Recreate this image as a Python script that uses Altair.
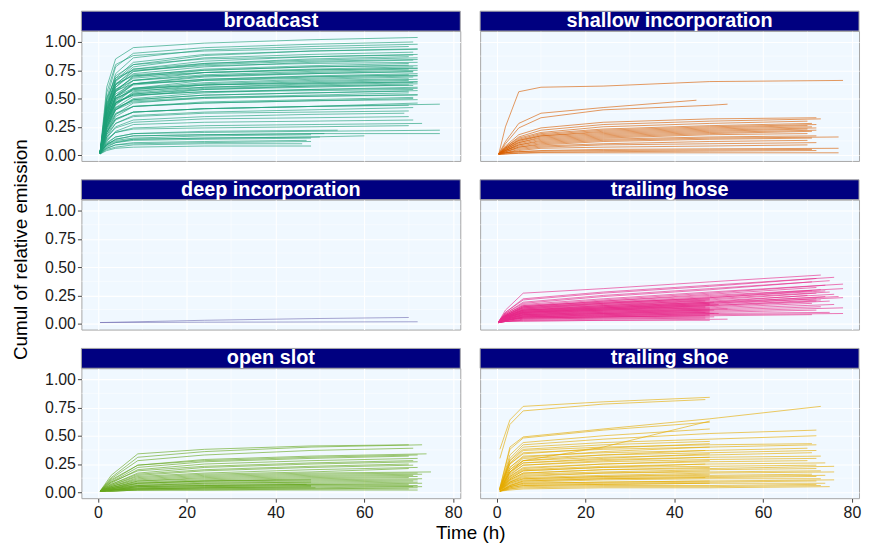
import altair as alt
import pandas as pd

PANELS = ["broadcast", "shallow incorporation", "deep incorporation",
          "trailing hose", "open slot", "trailing shoe"]
COLORS = ["#1B9E77", "#D95F02", "#7570B3", "#E7298A", "#66A61E", "#E6AB02"]

X_TICKS = [0, 20, 40, 60, 80]
X_MINOR = [10, 30, 50, 70]
Y_TICKS = [0, 0.25, 0.5, 0.75, 1.0]
Y_MINOR = [0.125, 0.375, 0.625, 0.875]

# sampling times per panel; each curve = (end time, values at the grid times, last one at end time)
broadcast_t = [0.5, 2, 4, 8, 24, 48, 72]
broadcast = [
    (72, [0.02, 0.60, 0.85, 0.95, 0.99, 1.02, 1.04]),
    (71, [0.02, 0.50, 0.78, 0.90, 0.95, 0.98, 1.00]),
    (72, [0.02, 0.45, 0.72, 0.86, 0.93, 0.96, 0.98]),
    (70, [0.02, 0.55, 0.80, 0.88, 0.92, 0.94, 0.96]),
    (72, [0.01, 0.40, 0.66, 0.80, 0.88, 0.92, 0.94]),
    (72, [0.02, 0.42, 0.68, 0.82, 0.89, 0.92, 0.935]),
    (71, [0.02, 0.42, 0.65, 0.78, 0.86, 0.89, 0.91]),
    (72, [0.02, 0.48, 0.70, 0.80, 0.85, 0.87, 0.89]),
    (71, [0.02, 0.36, 0.62, 0.76, 0.83, 0.87, 0.885]),
    (70, [0.01, 0.35, 0.60, 0.74, 0.81, 0.85, 0.87]),
    (72, [0.02, 0.45, 0.66, 0.76, 0.81, 0.84, 0.86]),
    (72, [0.02, 0.40, 0.63, 0.74, 0.80, 0.83, 0.845]),
    (71, [0.02, 0.38, 0.60, 0.72, 0.78, 0.82, 0.84]),
    (72, [0.02, 0.50, 0.68, 0.75, 0.79, 0.81, 0.82]),
    (70, [0.01, 0.33, 0.56, 0.70, 0.76, 0.79, 0.81]),
    (70, [0.02, 0.34, 0.57, 0.69, 0.75, 0.78, 0.795]),
    (72, [0.02, 0.40, 0.62, 0.71, 0.75, 0.78, 0.79]),
    (71, [0.02, 0.30, 0.52, 0.66, 0.73, 0.76, 0.78]),
    (72, [0.02, 0.44, 0.63, 0.70, 0.73, 0.75, 0.77]),
    (72, [0.02, 0.38, 0.58, 0.68, 0.73, 0.755, 0.765]),
    (70, [0.01, 0.35, 0.56, 0.66, 0.71, 0.74, 0.76]),
    (72, [0.02, 0.28, 0.50, 0.63, 0.70, 0.73, 0.75]),
    (71, [0.02, 0.38, 0.58, 0.66, 0.70, 0.72, 0.74]),
    (71, [0.02, 0.31, 0.52, 0.63, 0.69, 0.72, 0.735]),
    (72, [0.02, 0.32, 0.52, 0.62, 0.67, 0.70, 0.72]),
    (70, [0.01, 0.26, 0.46, 0.59, 0.66, 0.69, 0.71]),
    (72, [0.02, 0.36, 0.54, 0.63, 0.67, 0.695, 0.705]),
    (72, [0.02, 0.40, 0.57, 0.63, 0.66, 0.68, 0.70]),
    (71, [0.02, 0.30, 0.49, 0.59, 0.64, 0.67, 0.69]),
    (70, [0.02, 0.29, 0.48, 0.58, 0.63, 0.66, 0.675]),
    (72, [0.02, 0.25, 0.44, 0.56, 0.62, 0.65, 0.67]),
    (70, [0.02, 0.35, 0.52, 0.59, 0.62, 0.64, 0.66]),
    (72, [0.01, 0.28, 0.46, 0.55, 0.60, 0.63, 0.65]),
    (72, [0.02, 0.33, 0.50, 0.58, 0.62, 0.635, 0.645]),
    (71, [0.02, 0.33, 0.50, 0.57, 0.60, 0.62, 0.64]),
    (72, [0.02, 0.24, 0.42, 0.52, 0.58, 0.61, 0.63]),
    (70, [0.02, 0.30, 0.46, 0.54, 0.58, 0.60, 0.62]),
    (71, [0.02, 0.27, 0.45, 0.54, 0.59, 0.61, 0.615]),
    (72, [0.01, 0.22, 0.40, 0.50, 0.55, 0.58, 0.60]),
    (72, [0.02, 0.30, 0.46, 0.53, 0.56, 0.58, 0.59]),
    (71, [0.02, 0.32, 0.47, 0.53, 0.56, 0.57, 0.58]),
    (72, [0.02, 0.25, 0.41, 0.49, 0.53, 0.55, 0.57]),
    (70, [0.02, 0.24, 0.40, 0.49, 0.53, 0.55, 0.565]),
    (70, [0.02, 0.20, 0.36, 0.46, 0.51, 0.53, 0.55]),
    (72, [0.02, 0.26, 0.40, 0.47, 0.50, 0.52, 0.535]),
    (72, [0.02, 0.28, 0.42, 0.48, 0.51, 0.52, 0.53]),
    (71, [0.01, 0.20, 0.34, 0.43, 0.47, 0.49, 0.51]),
    (71, [0.02, 0.22, 0.36, 0.43, 0.46, 0.48, 0.50]),
    (72, [0.02, 0.24, 0.37, 0.43, 0.46, 0.48, 0.49]),
    (72, [0.02, 0.20, 0.32, 0.38, 0.41, 0.43, 0.46]),
    (77, [0.02, 0.18, 0.31, 0.38, 0.41, 0.43, 0.45]),
    (70, [0.02, 0.20, 0.32, 0.38, 0.41, 0.43, 0.44]),
    (71, [0.01, 0.16, 0.28, 0.35, 0.38, 0.40, 0.42]),
    (70, [0.02, 0.18, 0.28, 0.34, 0.37, 0.38, 0.39]),
    (69, [0.02, 0.15, 0.25, 0.31, 0.34, 0.36, 0.37]),
    (70, [0.02, 0.16, 0.24, 0.29, 0.32, 0.33, 0.34]),
    (71, [0.01, 0.12, 0.21, 0.27, 0.29, 0.30, 0.31]),
    (73, [0.02, 0.13, 0.20, 0.24, 0.26, 0.27, 0.28]),
    (70, [0.02, 0.14, 0.20, 0.23, 0.24, 0.25, 0.26]),
    (77, [0.02, 0.10, 0.16, 0.19, 0.20, 0.21, 0.22]),
    (77, [0.01, 0.09, 0.14, 0.17, 0.18, 0.19, 0.19]),
    (60, [0.02, 0.09, 0.12, 0.14, 0.15, 0.16, 0.17]),
    (54, [0.02, 0.11, 0.16, 0.19, 0.21, 0.22]),
    (51, [0.02, 0.09, 0.14, 0.17, 0.18, 0.19]),
    (48, [0.02, 0.10, 0.13, 0.15, 0.17, 0.18]),
    (50, [0.01, 0.07, 0.11, 0.14, 0.15, 0.16]),
    (48, [0.02, 0.08, 0.11, 0.13, 0.14, 0.15]),
    (47, [0.01, 0.06, 0.09, 0.11, 0.12, 0.13]),
    (48, [0.02, 0.06, 0.09, 0.10, 0.11, 0.12]),
    (46, [0.01, 0.05, 0.07, 0.09, 0.10, 0.10]),
    (48, [0.01, 0.04, 0.06, 0.07, 0.08, 0.08]),
]

shallow_t = [0.5, 2, 5, 10, 24, 48, 72]
shallow = [
    (78, [0.01, 0.25, 0.56, 0.60, 0.61, 0.65, 0.66]),
    (45, [0.01, 0.12, 0.28, 0.37, 0.42, 0.485]),
    (52, [0.01, 0.10, 0.24, 0.33, 0.40, 0.44, 0.45]),
    (72, [0.01, 0.08, 0.18, 0.24, 0.29, 0.32, 0.33]),
    (73, [0.01, 0.07, 0.16, 0.22, 0.27, 0.30, 0.32]),
    (70, [0.01, 0.07, 0.15, 0.20, 0.25, 0.28, 0.30]),
    (71, [0.01, 0.06, 0.14, 0.19, 0.23, 0.26, 0.28]),
    (72, [0.01, 0.06, 0.13, 0.18, 0.22, 0.25, 0.27]),
    (70, [0.01, 0.05, 0.12, 0.17, 0.21, 0.24, 0.26]),
    (71, [0.01, 0.06, 0.13, 0.17, 0.20, 0.23, 0.25]),
    (72, [0.01, 0.05, 0.11, 0.16, 0.19, 0.22, 0.24]),
    (70, [0.01, 0.05, 0.11, 0.15, 0.18, 0.21, 0.23]),
    (72, [0.01, 0.04, 0.10, 0.14, 0.17, 0.20, 0.22]),
    (71, [0.01, 0.04, 0.09, 0.13, 0.16, 0.19, 0.21]),
    (70, [0.01, 0.04, 0.09, 0.12, 0.15, 0.18, 0.19]),
    (77, [0.01, 0.03, 0.07, 0.10, 0.13, 0.15, 0.16]),
    (72, [0.01, 0.04, 0.08, 0.11, 0.14, 0.16, 0.17]),
    (71, [0.01, 0.03, 0.07, 0.09, 0.12, 0.14, 0.15]),
    (70, [0.01, 0.03, 0.06, 0.08, 0.10, 0.12, 0.13]),
    (72, [0.01, 0.02, 0.05, 0.07, 0.09, 0.10, 0.11]),
    (70, [0.01, 0.02, 0.04, 0.06, 0.07, 0.08, 0.09]),
    (77, [0.01, 0.02, 0.03, 0.04, 0.05, 0.055, 0.06]),
    (71, [0.01, 0.02, 0.03, 0.035, 0.04, 0.045, 0.05]),
    (77, [0.005, 0.01, 0.015, 0.02, 0.02, 0.02, 0.02]),
    (72, [0.005, 0.01, 0.02, 0.025, 0.03, 0.035, 0.04]),
]

deep_t = [0.5, 24, 48, 72]
deep = [
    (70, [0.01, 0.03, 0.045, 0.055]),
    (72, [0.01, 0.013, 0.015, 0.017]),
]

hose_t = [0.5, 2, 6, 24, 48, 72]
hose = [
    (73, [0.02, 0.12, 0.27, 0.31, 0.37, 0.43]),
    (76, [0.02, 0.10, 0.22, 0.28, 0.34, 0.41]),
    (72, [0.02, 0.10, 0.21, 0.27, 0.33, 0.40]),
    (75, [0.02, 0.09, 0.19, 0.25, 0.31, 0.38]),
    (71, [0.02, 0.09, 0.18, 0.24, 0.30, 0.37]),
    (78, [0.02, 0.08, 0.17, 0.22, 0.28, 0.35]),
    (74, [0.02, 0.08, 0.16, 0.21, 0.27, 0.34]),
    (72, [0.02, 0.07, 0.15, 0.20, 0.26, 0.32]),
    (78, [0.02, 0.07, 0.15, 0.20, 0.25, 0.31]),
    (73, [0.02, 0.07, 0.14, 0.19, 0.24, 0.30]),
    (71, [0.02, 0.06, 0.13, 0.18, 0.23, 0.29]),
    (74, [0.02, 0.07, 0.14, 0.18, 0.23, 0.29]),
    (75, [0.02, 0.06, 0.13, 0.17, 0.22, 0.28]),
    (72, [0.02, 0.06, 0.12, 0.16, 0.21, 0.27]),
    (76, [0.02, 0.06, 0.12, 0.16, 0.20, 0.26]),
    (70, [0.02, 0.05, 0.11, 0.15, 0.19, 0.25]),
    (74, [0.02, 0.05, 0.11, 0.14, 0.18, 0.24]),
    (77, [0.02, 0.06, 0.12, 0.15, 0.19, 0.24]),
    (78, [0.02, 0.05, 0.10, 0.14, 0.18, 0.23]),
    (72, [0.02, 0.05, 0.10, 0.13, 0.17, 0.22]),
    (73, [0.02, 0.05, 0.09, 0.12, 0.16, 0.21]),
    (75, [0.02, 0.04, 0.09, 0.12, 0.15, 0.20]),
    (72, [0.02, 0.05, 0.10, 0.13, 0.16, 0.20]),
    (71, [0.02, 0.04, 0.08, 0.11, 0.14, 0.18]),
    (76, [0.02, 0.04, 0.08, 0.10, 0.13, 0.17]),
    (73, [0.01, 0.04, 0.07, 0.09, 0.12, 0.15]),
    (78, [0.01, 0.04, 0.07, 0.09, 0.11, 0.14]),
    (72, [0.01, 0.03, 0.06, 0.08, 0.10, 0.12]),
    (75, [0.01, 0.03, 0.06, 0.07, 0.09, 0.10]),
    (78, [0.01, 0.03, 0.05, 0.06, 0.08, 0.09]),
    (71, [0.01, 0.03, 0.05, 0.06, 0.07, 0.08]),
    (48, [0.02, 0.08, 0.16, 0.19, 0.22]),
    (48, [0.02, 0.07, 0.15, 0.18, 0.21]),
    (47, [0.02, 0.07, 0.14, 0.17, 0.20]),
    (49, [0.02, 0.07, 0.13, 0.16, 0.19]),
    (48, [0.02, 0.06, 0.12, 0.15, 0.18]),
    (50, [0.02, 0.06, 0.11, 0.14, 0.17]),
    (48, [0.02, 0.06, 0.12, 0.14, 0.17]),
    (48, [0.02, 0.06, 0.11, 0.13, 0.16]),
    (47, [0.02, 0.05, 0.10, 0.13, 0.15]),
    (48, [0.02, 0.05, 0.10, 0.12, 0.14]),
    (47, [0.02, 0.05, 0.10, 0.12, 0.14]),
    (52, [0.02, 0.05, 0.09, 0.11, 0.13]),
    (48, [0.01, 0.05, 0.09, 0.11, 0.13]),
    (49, [0.01, 0.04, 0.08, 0.10, 0.12]),
    (48, [0.01, 0.04, 0.08, 0.10, 0.12]),
    (48, [0.01, 0.04, 0.08, 0.09, 0.11]),
    (47, [0.01, 0.04, 0.07, 0.09, 0.10]),
    (48, [0.01, 0.04, 0.07, 0.08, 0.10]),
    (50, [0.01, 0.03, 0.06, 0.08, 0.09]),
    (49, [0.01, 0.03, 0.06, 0.07, 0.09]),
    (48, [0.01, 0.03, 0.06, 0.07, 0.08]),
    (47, [0.01, 0.03, 0.05, 0.06, 0.07]),
    (48, [0.01, 0.03, 0.05, 0.06, 0.07]),
    (49, [0.01, 0.02, 0.04, 0.05, 0.06]),
    (48, [0.01, 0.02, 0.04, 0.05, 0.05]),
    (47, [0.01, 0.02, 0.03, 0.04, 0.05]),
    (52, [0.01, 0.02, 0.03, 0.03, 0.04]),
    (48, [0.01, 0.02, 0.02, 0.03, 0.03]),
]

openslot_t = [0.5, 3, 9, 24, 48, 72]
openslot = [
    (70, [0.01, 0.15, 0.34, 0.38, 0.41, 0.42]),
    (73, [0.01, 0.13, 0.31, 0.36, 0.40, 0.42]),
    (71, [0.01, 0.12, 0.28, 0.33, 0.37, 0.39]),
    (74, [0.01, 0.10, 0.24, 0.29, 0.32, 0.34]),
    (72, [0.01, 0.11, 0.24, 0.28, 0.31, 0.33]),
    (70, [0.01, 0.09, 0.22, 0.27, 0.30, 0.32]),
    (72, [0.01, 0.08, 0.20, 0.25, 0.28, 0.30]),
    (71, [0.01, 0.09, 0.19, 0.23, 0.26, 0.28]),
    (72, [0.01, 0.07, 0.17, 0.22, 0.25, 0.27]),
    (70, [0.01, 0.07, 0.16, 0.20, 0.23, 0.25]),
    (71, [0.01, 0.06, 0.15, 0.19, 0.22, 0.24]),
    (72, [0.01, 0.06, 0.14, 0.17, 0.20, 0.22]),
    (70, [0.01, 0.05, 0.13, 0.16, 0.18, 0.21]),
    (75, [0.01, 0.05, 0.12, 0.15, 0.17, 0.18]),
    (72, [0.01, 0.05, 0.11, 0.14, 0.16, 0.17]),
    (73, [0.01, 0.04, 0.10, 0.13, 0.15, 0.16]),
    (71, [0.01, 0.04, 0.10, 0.12, 0.14, 0.15]),
    (72, [0.01, 0.04, 0.09, 0.11, 0.13, 0.14]),
    (70, [0.01, 0.04, 0.08, 0.10, 0.12, 0.13]),
    (73, [0.01, 0.03, 0.08, 0.10, 0.11, 0.12]),
    (72, [0.01, 0.03, 0.07, 0.09, 0.10, 0.11]),
    (71, [0.01, 0.03, 0.06, 0.08, 0.09, 0.10]),
    (72, [0.01, 0.03, 0.06, 0.07, 0.08, 0.09]),
    (73, [0.01, 0.02, 0.05, 0.06, 0.07, 0.08]),
    (70, [0.01, 0.02, 0.05, 0.06, 0.07, 0.07]),
    (72, [0.01, 0.02, 0.04, 0.05, 0.06, 0.06]),
    (71, [0.01, 0.02, 0.03, 0.04, 0.05, 0.05]),
    (73, [0.01, 0.02, 0.03, 0.04, 0.04, 0.05]),
    (72, [0.01, 0.01, 0.02, 0.03, 0.03, 0.04]),
    (70, [0.01, 0.01, 0.02, 0.02, 0.03, 0.03]),
    (72, [0.01, 0.01, 0.02, 0.02, 0.02, 0.02]),
    (48, [0.01, 0.03, 0.08, 0.10, 0.11]),
    (48, [0.01, 0.02, 0.06, 0.08, 0.09]),
    (47, [0.01, 0.02, 0.05, 0.06, 0.07]),
    (48, [0.01, 0.02, 0.04, 0.05, 0.06]),
    (48, [0.01, 0.02, 0.03, 0.04, 0.05]),
    (49, [0.01, 0.01, 0.03, 0.03, 0.04]),
]

shoe_t = [0.75, 3, 6, 24, 48, 72]
shoe = [
    (48, [0.38, 0.64, 0.76, 0.80, 0.84]),
    (47, [0.30, 0.60, 0.72, 0.78, 0.82]),
    (73, [0.04, 0.40, 0.49, 0.56, 0.65, 0.76]),
    (48, [0.04, 0.38, 0.48, 0.55, 0.62]),
    (48, [0.03, 0.33, 0.44, 0.50, 0.56]),
    (48, [0.02, 0.18, 0.28, 0.40, 0.63]),
    (72, [0.03, 0.30, 0.42, 0.47, 0.52, 0.55]),
    (72, [0.03, 0.28, 0.40, 0.44, 0.47, 0.50]),
    (71, [0.03, 0.26, 0.37, 0.40, 0.42, 0.43]),
    (72, [0.03, 0.25, 0.35, 0.38, 0.40, 0.42]),
    (70, [0.03, 0.22, 0.32, 0.35, 0.37, 0.39]),
    (72, [0.02, 0.20, 0.30, 0.33, 0.35, 0.37]),
    (71, [0.02, 0.18, 0.28, 0.31, 0.33, 0.35]),
    (73, [0.02, 0.17, 0.26, 0.29, 0.31, 0.32]),
    (72, [0.02, 0.15, 0.24, 0.27, 0.29, 0.30]),
    (70, [0.02, 0.14, 0.22, 0.25, 0.27, 0.28]),
    (74, [0.02, 0.13, 0.20, 0.23, 0.25, 0.26]),
    (72, [0.02, 0.12, 0.19, 0.22, 0.23, 0.24]),
    (76, [0.02, 0.11, 0.17, 0.20, 0.21, 0.23]),
    (72, [0.02, 0.10, 0.16, 0.18, 0.20, 0.21]),
    (73, [0.02, 0.09, 0.15, 0.17, 0.18, 0.19]),
    (76, [0.02, 0.09, 0.13, 0.15, 0.17, 0.18]),
    (71, [0.02, 0.08, 0.12, 0.14, 0.15, 0.16]),
    (74, [0.02, 0.07, 0.11, 0.13, 0.14, 0.15]),
    (72, [0.01, 0.06, 0.10, 0.12, 0.13, 0.14]),
    (73, [0.01, 0.06, 0.09, 0.11, 0.12, 0.12]),
    (76, [0.01, 0.05, 0.08, 0.09, 0.10, 0.11]),
    (72, [0.01, 0.05, 0.07, 0.08, 0.09, 0.10]),
    (74, [0.01, 0.04, 0.06, 0.07, 0.08, 0.08]),
    (72, [0.01, 0.03, 0.05, 0.06, 0.06, 0.07]),
    (73, [0.01, 0.03, 0.04, 0.05, 0.05, 0.06]),
    (75, [0.01, 0.02, 0.03, 0.04, 0.04, 0.05]),
    (48, [0.03, 0.28, 0.38, 0.42, 0.45]),
    (48, [0.03, 0.25, 0.34, 0.39, 0.43]),
    (48, [0.03, 0.22, 0.31, 0.36, 0.40]),
    (47, [0.02, 0.20, 0.28, 0.33, 0.37]),
    (48, [0.02, 0.18, 0.26, 0.30, 0.34]),
    (48, [0.02, 0.16, 0.24, 0.28, 0.31]),
    (48, [0.02, 0.14, 0.21, 0.25, 0.28]),
    (47, [0.02, 0.12, 0.19, 0.22, 0.25]),
    (48, [0.02, 0.11, 0.17, 0.20, 0.22]),
    (48, [0.02, 0.09, 0.14, 0.17, 0.19]),
    (48, [0.01, 0.08, 0.12, 0.14, 0.16]),
    (47, [0.01, 0.06, 0.10, 0.12, 0.13]),
    (48, [0.01, 0.05, 0.08, 0.09, 0.10]),
    (48, [0.01, 0.04, 0.06, 0.07, 0.08]),
]

SOURCES = [(broadcast_t, broadcast), (shallow_t, shallow), (deep_t, deep),
           (hose_t, hose), (openslot_t, openslot), (shoe_t, shoe)]

rows = []
for name, (grid, curves) in zip(PANELS, SOURCES):
    for k, (end, vals) in enumerate(curves):
        times = grid[:len(vals) - 1] + [end]
        for t, v in zip(times, vals):
            rows.append({"panel": name, "cid": f"{name}-{k}", "t": t, "v": v})
df = pd.DataFrame(rows)

W, H, STRIP = 382, 131, 20
XDOM = [-3.7, 81.6]
YDOM = [-0.052, 1.097]
FONT = "Liberation Sans"

xs = alt.Scale(domain=XDOM, nice=False, zero=False)
ys = alt.Scale(domain=YDOM, nice=False, zero=False)


def panel(i):
    name = PANELS[i]
    col, row = i % 2, i // 2
    left = col == 0
    bottom = row == 2

    xaxis_kw = dict(values=X_TICKS, grid=True, labels=bottom, ticks=bottom,
                    domain=False, title=None, labelOverlap=False)
    if bottom and left:
        xaxis_kw.update(title="Time (h)", titleX=W + 10, titleY=41,
                        titleBaseline="alphabetic", titleAlign="center")
    yaxis_kw = dict(values=Y_TICKS, grid=True, labels=left, ticks=left,
                    domain=False, format=".2f", title=None, labelOverlap=False)
    if left and row == 1:
        yaxis_kw.update(title="Cumul of relative emission", titleY=50,
                        titlePadding=14)
    xaxis = alt.Axis(**xaxis_kw)
    yaxis = alt.Axis(**yaxis_kw)

    lines = alt.Chart(df[df.panel == name]).mark_line(
        color=COLORS[i], strokeWidth=0.9, opacity=0.7
    ).encode(
        x=alt.X("t:Q", scale=xs, axis=xaxis),
        y=alt.Y("v:Q", scale=ys, axis=yaxis),
        detail="cid:N",
    )
    vminor = alt.Chart(pd.DataFrame({"mx": X_MINOR})).mark_rule(
        color="white", strokeWidth=0.5
    ).encode(x=alt.X("mx:Q", scale=xs, axis=xaxis))
    hminor = alt.Chart(pd.DataFrame({"my": Y_MINOR})).mark_rule(
        color="white", strokeWidth=0.5
    ).encode(y=alt.Y("my:Q", scale=ys, axis=yaxis))

    lab = pd.DataFrame({"label": [name]})
    strip = alt.Chart(lab).mark_rect(
        color="#000080", stroke="#A6A6A6", strokeWidth=1
    ).encode(x=alt.value(0), x2=alt.value(W),
             y=alt.value(-STRIP), y2=alt.value(0))
    text = alt.Chart(lab).mark_text(
        color="white", fontSize=20, fontWeight="bold", font=FONT,
        baseline="alphabetic", align="center"
    ).encode(x=alt.value(W / 2), y=alt.value(-4), text="label:N")

    return alt.layer(vminor, hminor, lines, strip, text).properties(width=W, height=H)


chart = alt.concat(
    *[panel(i) for i in range(6)], columns=2,
    spacing={"row": 39, "column": 20}, bounds="flush"
).properties(
    padding={"left": 3, "top": 0, "right": 0, "bottom": 0}
).configure_view(
    fill="#F0F8FF", stroke="#A6A6A6", strokeWidth=1
).configure_axis(
    labelFont=FONT, labelFontSize=16, labelColor="#1a1a1a",
    titleFont=FONT, titleFontSize=19, titleFontWeight="normal", titleColor="#000000",
    tickColor="#444444", tickSize=4, tickWidth=1, labelPadding=2,
    gridColor="white", gridWidth=1.1, labelOverlap=False,
)

chart.save("out.html", embed_options={"renderer": "svg", "actions": False})
